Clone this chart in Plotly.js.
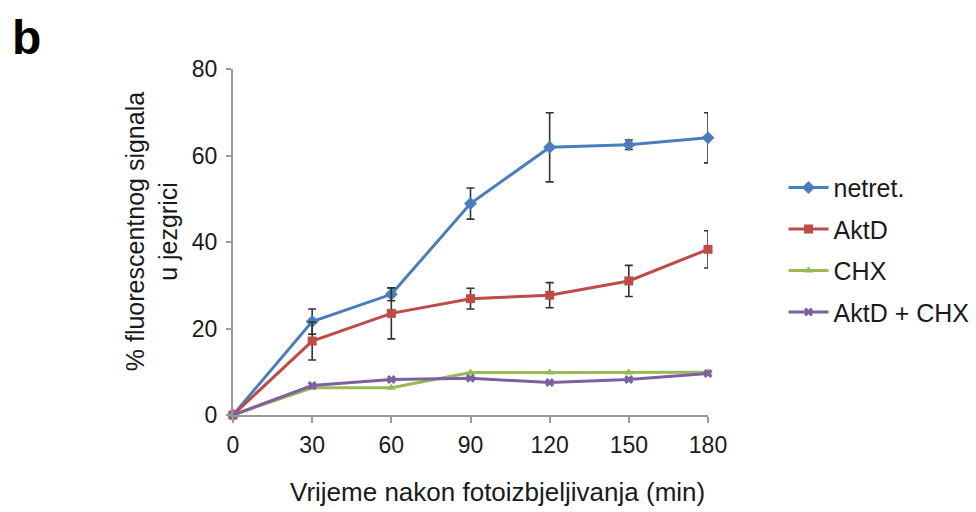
<!DOCTYPE html>
<html>
<head>
<meta charset="utf-8">
<script src="https://cdn.plot.ly/plotly-3.0.1.min.js"></script>
<style>html,body{margin:0;padding:0;background:#fff;}#chart{width:976px;height:512px;}</style>
</head>
<body>
<div id="chart"></div>
<script>
var timePoints = [0, 30, 60, 90, 120, 150, 180];
var xTickLabels = ["0", "30", "60", "90", "120", "150", "180"];
var yTickValues = [0, 20, 40, 60, 80];

var seriesNames = ["netret.", "AktD", "CHX", "AktD + CHX"];
var netretValues = [0, 21.6, 27.9, 48.9, 61.9, 62.5, 64.1];
var netretErrors = [0, 2.9, 1.5, 3.6, 8.0, 1.1, 5.8];
var aktdValues = [0, 17.1, 23.5, 26.9, 27.7, 31.0, 38.3];
var aktdErrors = [0, 4.4, 5.9, 2.4, 2.9, 3.6, 4.3];
var chxValues = [0, 6.3, 6.3, 9.8, 9.8, 9.8, 9.9];
var aktdChxValues = [0, 6.8, 8.2, 8.5, 7.5, 8.2, 9.6];

var panelLabel = "b";
var yTitle = "% fluorescentnog signala<br>u jezgrici";
var xTitle = "Vrijeme nakon fotoizbjeljivanja (min)";

var FONT = "Liberation Sans, Arial, sans-serif";

function errBar(arr) {
  return {type: "data", array: arr, visible: true, color: "#333333", thickness: 1.6, width: 4};
}

var traces = [
  {x: timePoints, y: netretValues, name: seriesNames[0], legendgroup: "g1", mode: "lines+markers",
   line: {color: "#4a7ebb", width: 3}, marker: {symbol: "diamond", size: 10, color: "#4a7ebb"},
   error_y: errBar(netretErrors), cliponaxis: false},
  {x: timePoints, y: aktdValues, name: seriesNames[1], legendgroup: "g2", mode: "lines+markers",
   line: {color: "#be4b48", width: 3}, marker: {symbol: "square", size: 9, color: "#be4b48"},
   error_y: errBar(aktdErrors), cliponaxis: false},
  {x: timePoints, y: chxValues, name: seriesNames[2], legendgroup: "g3", mode: "lines+markers",
   line: {color: "#98b954", width: 3}, marker: {symbol: "triangle-up", size: 8, color: "#98b954"},
   cliponaxis: false},
  {x: timePoints, y: aktdChxValues, name: seriesNames[3], legendgroup: "g4", mode: "lines+markers",
   line: {color: "#7d60a0", width: 3}, marker: {symbol: "x", size: 8, color: "#7d60a0"},
   cliponaxis: false}
];

var layout = {
  width: 976, height: 512,
  margin: {l: 233, r: 268, t: 69, b: 97, pad: 0, autoexpand: false},
  paper_bgcolor: "#ffffff", plot_bgcolor: "#ffffff",
  font: {family: FONT, size: 23, color: "#1a1a1a"},
  showlegend: true,
  legend: {x: 1.159, y: 0.723, xanchor: "left", yanchor: "top", traceorder: "grouped",
           tracegroupgap: 6, font: {family: FONT, size: 25, color: "#1a1a1a"},
           bgcolor: "rgba(0,0,0,0)", itemwidth: 40},
  xaxis: {range: [0, 180], tickvals: timePoints, ticktext: xTickLabels,
          showgrid: false, zeroline: false, showline: true, linecolor: "#9a9a9a", linewidth: 2,
          ticks: "outside", ticklen: 6, tickwidth: 2, tickcolor: "#9a9a9a",
          ticklabelstandoff: 2, tickfont: {family: FONT, size: 23, color: "#1a1a1a"}, fixedrange: true},
  yaxis: {range: [0, 80], tickvals: yTickValues, showgrid: false, zeroline: false,
          showline: true, linecolor: "#9a9a9a", linewidth: 2,
          ticks: "outside", ticklen: 5, tickwidth: 2, tickcolor: "#9a9a9a",
          ticklabelstandoff: 4, tickfont: {family: FONT, size: 23, color: "#1a1a1a"}, fixedrange: true},
  annotations: [
    {text: panelLabel, xref: "paper", yref: "paper", x: -0.434, y: 1.09, xanchor: "center", yanchor: "middle",
     showarrow: false, font: {family: FONT, size: 48, color: "#000000", weight: "bold"}},
    {text: yTitle, xref: "paper", yref: "paper", x: -0.17, y: 0.529, xanchor: "center", yanchor: "middle",
     textangle: -90, showarrow: false, font: {family: FONT, size: 25, color: "#1a1a1a"}},
    {text: xTitle, xref: "paper", yref: "paper", x: 0.556, y: -0.2225, xanchor: "center", yanchor: "middle",
     showarrow: false, font: {family: FONT, size: 26, color: "#1a1a1a"}}
  ]
};

Plotly.newPlot("chart", traces, layout, {staticPlot: true, displayModeBar: false});
</script>
</body>
</html>
